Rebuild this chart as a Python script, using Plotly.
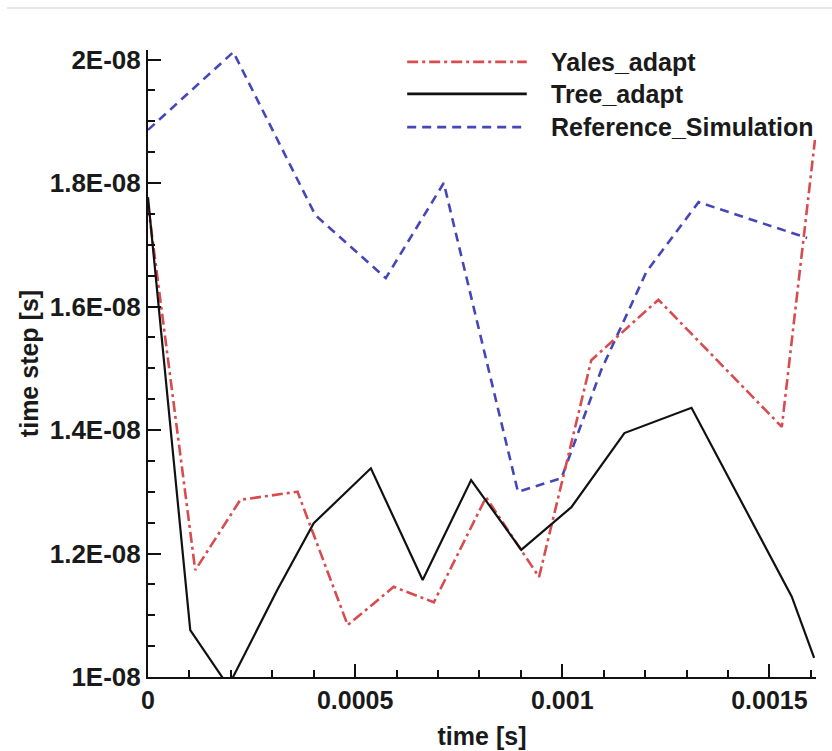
import plotly.graph_objects as go

# ---- data (x in seconds, y in seconds) ----
ref_x = [0, 0.000206, 0.000404, 0.000574, 0.000714, 0.000893, 0.000998, 0.001094, 0.001203, 0.001329, 0.001591]
ref_y = [1.886e-8, 2.012e-8, 1.748e-8, 1.646e-8, 1.800e-8, 1.300e-8, 1.322e-8, 1.497e-8, 1.656e-8, 1.769e-8, 1.711e-8]

tree_x = [0, 0.000102, 0.000194, 0.000312, 0.000400, 0.000538, 0.000663, 0.000780, 0.000901, 0.001022, 0.001150, 0.001312, 0.001554, 0.001608]
tree_y = [1.777e-8, 1.076e-8, 0.985e-8, 1.141e-8, 1.249e-8, 1.338e-8, 1.157e-8, 1.319e-8, 1.206e-8, 1.275e-8, 1.395e-8, 1.436e-8, 1.130e-8, 1.031e-8]

yales_x = [0, 0.000114, 0.000223, 0.000361, 0.000482, 0.000593, 0.000690, 0.000816, 0.000944, 0.001070, 0.001232, 0.001530, 0.001610]
yales_y = [1.765e-8, 1.173e-8, 1.287e-8, 1.300e-8, 1.084e-8, 1.146e-8, 1.121e-8, 1.291e-8, 1.162e-8, 1.513e-8, 1.611e-8, 1.405e-8, 1.870e-8]

x_tickvals = [0, 0.0005, 0.001, 0.0015]
x_ticktext = ["0", "0.0005", "0.001", "0.0015"]
y_tickvals = [1.0e-8, 1.2e-8, 1.4e-8, 1.6e-8, 1.8e-8, 2.0e-8]
y_ticktext = ["1E-08", "1.2E-08", "1.4E-08", "1.6E-08", "1.8E-08", "2E-08"]

series_names = ["Yales_adapt", "Tree_adapt", "Reference_Simulation"]

RED = "#d84b4e"
BLACK = "#111111"
BLUE = "#4646b8"
FONT = "Liberation Sans"

fig = go.Figure()
fig.add_trace(go.Scatter(x=ref_x, y=ref_y, mode="lines", name=series_names[2],
                         line=dict(color=BLUE, width=2.6, dash="9px,6px"), showlegend=False))
fig.add_trace(go.Scatter(x=yales_x, y=yales_y, mode="lines", name=series_names[0],
                         line=dict(color=RED, width=2.6, dash="11px,4px,3px,4px"), showlegend=False))
fig.add_trace(go.Scatter(x=tree_x, y=tree_y, mode="lines", name=series_names[1],
                         line=dict(color=BLACK, width=2.2), showlegend=False))

# custom legend (line samples + labels)
leg_styles = [(RED, "11px,4px,3px,4px", 2.8), (BLACK, "solid", 2.8), (BLUE, "9px,6px", 2.8)]
leg_y = [0.981, 0.930, 0.877]
for (c, d, w), yy, nm in zip(leg_styles, leg_y, series_names):
    fig.add_shape(type="line", xref="paper", yref="paper", x0=0.388, x1=0.567, y0=yy, y1=yy,
                  line=dict(color=c, dash=d, width=w))
    fig.add_annotation(xref="paper", yref="paper", x=0.600, y=yy, text=nm, showarrow=False,
                       xanchor="left", yanchor="middle",
                       font=dict(family=FONT, size=25, color="#1a1a1a", weight="bold"))

# faint separator line at the top of the page
fig.add_shape(type="line", xref="paper", yref="paper", x0=-0.211, x1=1.03, y0=1.067, y1=1.067,
              line=dict(color="#cfcfcf", width=1.2))

fig.update_layout(
    width=832, height=751,
    margin=dict(l=148, r=16, t=50, b=74, autoexpand=False),
    paper_bgcolor="white", plot_bgcolor="white",
    font=dict(family=FONT, color="#1a1a1a"),
)
fig.update_xaxes(
    automargin=False,
    range=[0, 0.0016125], showgrid=False, zeroline=False,
    showline=True, linecolor="#111", linewidth=2,
    ticks="inside", ticklen=13, tickwidth=2, tickcolor="#111",
    tickmode="array", tickvals=x_tickvals, ticktext=x_ticktext,
    tickfont=dict(family=FONT, size=25, weight="bold", color="#1a1a1a"),
    minor=dict(tickmode="linear", tick0=0, dtick=0.0001, ticks="inside", ticklen=7,
               tickwidth=1.5, tickcolor="#111"),
    title=dict(text="time [s]", standoff=14,
               font=dict(family=FONT, size=25, weight="bold", color="#1a1a1a")),
)
fig.update_yaxes(
    automargin=False,
    range=[1e-8, 2.0154e-8], showgrid=False, zeroline=False,
    showline=True, linecolor="#111", linewidth=2,
    ticks="inside", ticklen=13, tickwidth=2, tickcolor="#111",
    tickmode="array", tickvals=y_tickvals, ticktext=y_ticktext,
    tickfont=dict(family=FONT, size=26, weight="bold", color="#1a1a1a"),
    minor=dict(tickmode="linear", tick0=1e-8, dtick=0.05e-8, ticks="inside", ticklen=7,
               tickwidth=1.5, tickcolor="#111"),
    title=dict(text="time step [s]", standoff=4,
               font=dict(family=FONT, size=25, weight="bold", color="#1a1a1a")),
)

fig.write_html("out.html", config={"displayModeBar": False},
               post_script="document.body.style.margin='0px';document.body.style.overflow='hidden';")
